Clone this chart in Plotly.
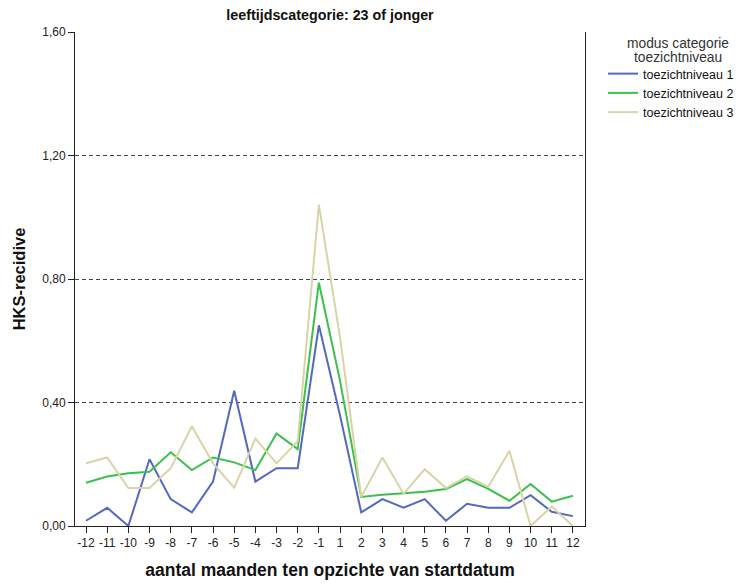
import plotly.graph_objects as go

months = ["-12", "-11", "-10", "-9", "-8", "-7", "-6", "-5", "-4", "-3", "-2", "-1",
          "1", "2", "3", "4", "5", "6", "7", "8", "9", "10", "11", "12"]

niveau1 = [0.017, 0.059, 0.0, 0.216, 0.087, 0.044, 0.144, 0.438, 0.144, 0.187, 0.187, 0.650,
           0.358, 0.044, 0.087, 0.059, 0.087, 0.017, 0.072, 0.059, 0.059, 0.100, 0.046, 0.032]
niveau2 = [0.140, 0.160, 0.171, 0.176, 0.239, 0.181, 0.222, 0.206, 0.181, 0.300, 0.249, 0.788,
           0.470, 0.094, 0.101, 0.105, 0.111, 0.120, 0.152, 0.120, 0.082, 0.136, 0.079, 0.098]
niveau3 = [0.203, 0.222, 0.123, 0.123, 0.187, 0.323, 0.203, 0.124, 0.283, 0.203, 0.275, 1.040,
           0.610, 0.094, 0.222, 0.104, 0.184, 0.123, 0.161, 0.127, 0.244, 0.0, 0.063, 0.0]

series_names = ["toezichtniveau 1", "toezichtniveau 2", "toezichtniveau 3"]
series_colors = ["#5468c0", "#3cc04c", "#d8d4a6"]
y_ticks = [0.0, 0.4, 0.8, 1.2, 1.6]
y_ticktext = ["0,00", "0,40", "0,80", "1,20", "1,60"]

idx = list(range(len(months)))

# the page body has an 8px margin; figure coordinates = page coordinates - 8
W, H = 760, 576
L, T = 67, 24
PW, PH = 510, 494
R = W - L - PW
B = H - T - PH

def py(fig_y):
    return 1 - (fig_y - T) / PH

def px(fig_x):
    return (fig_x - L) / PW

fig = go.Figure()
for name, vals, col in zip(series_names, [niveau1, niveau2, niveau3], series_colors):
    fig.add_trace(go.Scatter(x=idx, y=vals, mode="lines", name=name,
                             line=dict(color=col, width=2)))

fig.update_layout(
    width=W, height=H,
    margin=dict(l=L, r=R, t=T, b=B),
    paper_bgcolor="white", plot_bgcolor="white",
    font=dict(family="Liberation Sans, Arial, sans-serif", size=12, color="#222"),
    title=dict(text="<b>leeftijdscategorie: 23 of jonger</b>", x=(L + PW / 2) / W,
               xanchor="center", y=1 - 7 / H, yanchor="middle",
               font=dict(size=14.3, color="#111")),
    legend=dict(x=px(595), y=py(51), xanchor="left", yanchor="top",
                bgcolor="rgba(0,0,0,0)",
                font=dict(size=12.5, color="#111"), itemwidth=30, tracegroupgap=0),
    annotations=[
        dict(text="modus categorie", xref="paper", yref="paper", x=px(670), y=py(35),
             xanchor="center", yanchor="middle", showarrow=False,
             font=dict(size=13.8, color="#333")),
        dict(text="toezichtniveau", xref="paper", yref="paper", x=px(670), y=py(50),
             xanchor="center", yanchor="middle", showarrow=False,
             font=dict(size=13.8, color="#333")),
    ],
    xaxis=dict(range=[-0.52, 23.57], tickvals=idx, ticktext=months, automargin=False,
               showgrid=False, zeroline=False, showline=True, linecolor="#222",
               linewidth=1, mirror=False, ticks="outside", ticklen=6, tickcolor="#222",
               tickfont=dict(size=12, color="#222"),
               title=dict(text="<b>aantal maanden ten opzichte van startdatum</b>",
                          font=dict(size=17.5, color="#111"), standoff=14)),
    yaxis=dict(range=[0, 1.6], tickvals=y_ticks, ticktext=y_ticktext, automargin=False,
               showgrid=True, gridcolor="#444", griddash="4px,3px", gridwidth=1,
               zeroline=False, showline=True, linecolor="#222", linewidth=1, mirror=True,
               ticks="outside", ticklen=6, tickcolor="#222",
               tickfont=dict(size=12, color="#222"),
               title=dict(text="<b>HKS-recidive</b>", font=dict(size=16.5, color="#111"),
                          standoff=12)),
)

fig.write_html("out.html")
